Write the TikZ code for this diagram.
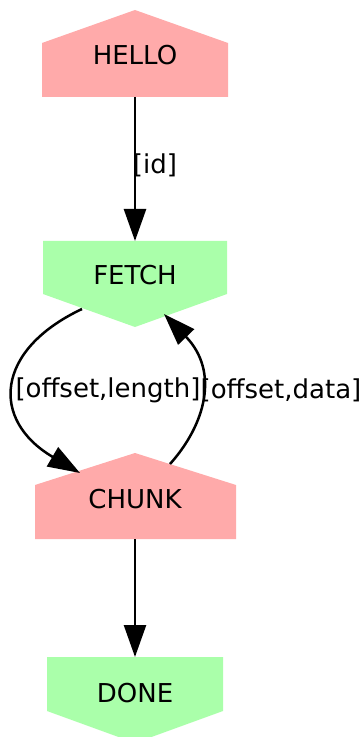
\documentclass[tikz,border=0pt]{standalone}
\usepackage{fontspec}
\setmainfont{DejaVu Sans}
\usetikzlibrary{arrows.meta}
\definecolor{pinkfill}{HTML}{FFAAAA}
\definecolor{greenfill}{HTML}{AAFFAA}

\begin{document}
\begin{tikzpicture}[x=0.5pt,y=-0.5pt,
  lbl/.style={font=\fontsize{13}{15}\selectfont, inner sep=0pt},
  edge/.style={line width=1.25pt, -{Triangle[length=16pt,width=11pt]}},
  redbox/.style={fill=pinkfill},
  greenbox/.style={fill=greenfill}]
\useasboundingbox (0,0) rectangle (363,737);

% state shapes: house for HELLO/CHUNK, inverted house for FETCH/DONE
\fill[redbox]   (42,97) -- (228,97) -- (228,43) -- (135,10) -- (42,43) -- cycle;
\fill[greenbox] (43,241) -- (227,241) -- (227,294) -- (135,327) -- (43,294) -- cycle;
\fill[redbox]   (35,539) -- (236,539) -- (236,485) -- (135,453) -- (35,485) -- cycle;
\fill[greenbox] (47,657) -- (223,657) -- (223,711) -- (135,743) -- (47,711) -- cycle;

\node[lbl] (hello) at (135,55)  {HELLO};
\node[lbl] (fetch) at (135,275) {FETCH};
\node[lbl] (chunk) at (135,499) {CHUNK};
\node[lbl] (done)  at (135,693) {DONE};

% attachment points on the shape outlines
\coordinate (hello-s)  at (135,97);
\coordinate (fetch-n)  at (135,241);
\coordinate (fetch-sw) at (82,309);
\coordinate (fetch-se) at (164,314);
\coordinate (chunk-nw) at (80,473);
\coordinate (chunk-ne) at (170,464);
\coordinate (chunk-s)  at (135,539);
\coordinate (done-n)   at (135,657);

\draw[edge] (hello-s) -- (fetch-n);
\draw[edge] (fetch-sw) .. controls (-5,350) and (-10,420) .. (chunk-nw);
\draw[edge] (chunk-ne) .. controls (205,425) and (220,372) .. (fetch-se);
\draw[edge] (chunk-s) -- (done-n);

\node[lbl] (l-id)     at (155,165) {[id]};
\node[lbl] (l-len)    at (108,390) {[offset,length]};
\node[lbl] (l-data)   at (281,390) {[offset,data]};
\end{tikzpicture}
\end{document}
